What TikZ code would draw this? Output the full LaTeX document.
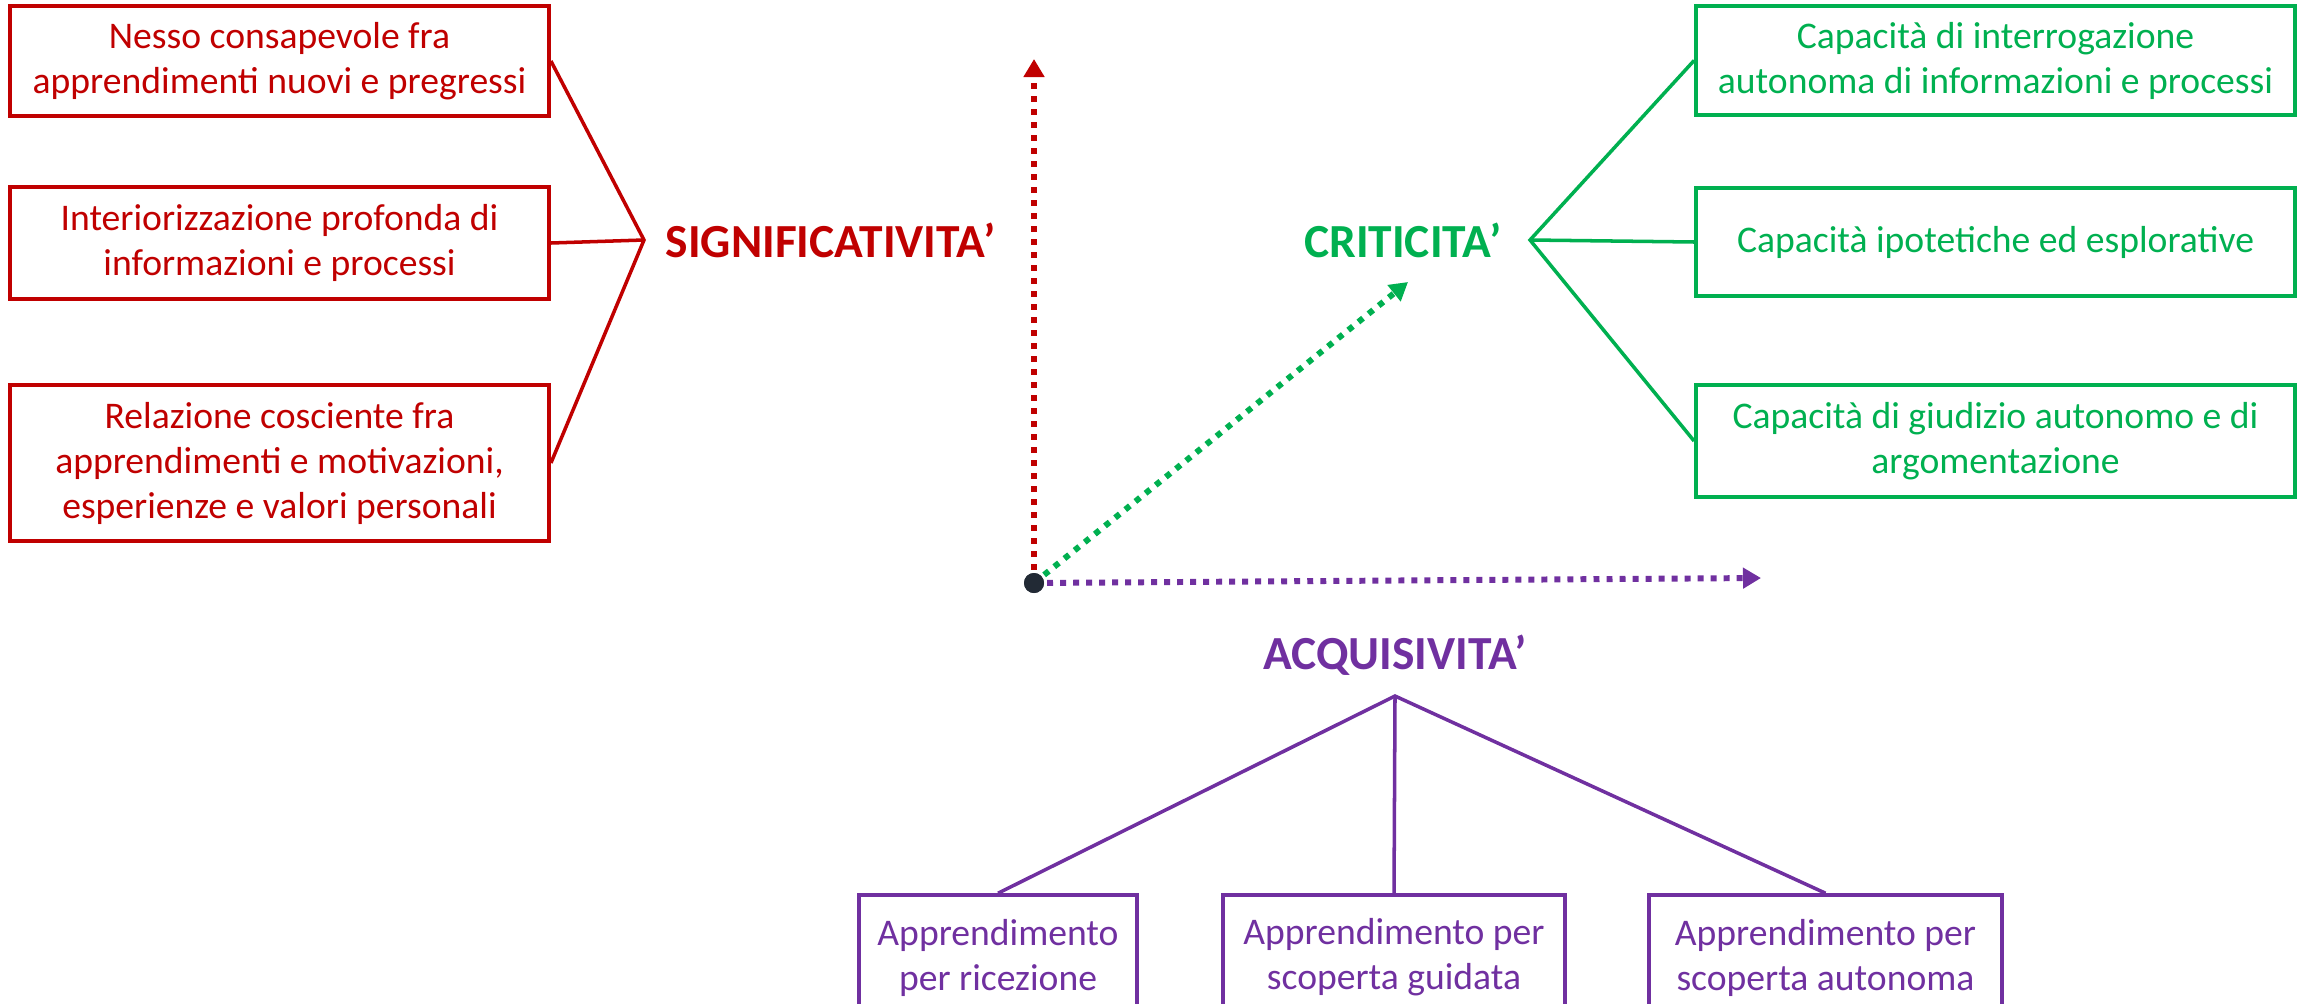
\documentclass[tikz,border=0pt]{standalone}
\usepackage{fontspec}
\setmainfont{Carlito}
\usetikzlibrary{arrows.meta,positioning}
\definecolor{sigred}{HTML}{C00000}
\definecolor{critgreen}{HTML}{00B050}
\definecolor{acqpurple}{HTML}{7030A0}
\definecolor{origindark}{HTML}{222A35}

\tikzset{
  itembox/.style={draw, line width=1pt, align=center, inner sep=0pt,
    font=\fontsize{10.7pt}{12.8pt}\selectfont},
  axisarrow/.style={line width=1.7pt, dash pattern=on 1.7pt off 2pt,
    -{Triangle[width=0.2cm,length=0.18cm]}},
  heading/.style={inner sep=0pt, font=\fontsize{13.5pt}{15pt}\selectfont\bfseries},
  branch/.style={line width=1pt}
}

\begin{document}
\begin{tikzpicture}[x=0.01cm, y=-0.01cm]
\useasboundingbox (0,0) rectangle (2307,1003);
\clip (0,0) rectangle (2307,1003);

% significativita'
\begin{scope}[sigred]
\node[itembox, minimum width=5.39cm, minimum height=1.10cm] (s1) at (279.5,61)
  {Nesso consapevole fra\\apprendimenti nuovi e pregressi};
\node[itembox, minimum width=5.39cm, minimum height=1.12cm] (s2) at (279.5,243)
  {Interiorizzazione profonda di\\informazioni e processi};
\node[itembox, minimum width=5.39cm, minimum height=1.56cm] (s3) at (279.5,463)
  {Relazione cosciente fra\\apprendimenti e motivazioni,\\esperienze e valori personali};
\coordinate (sj) at (644,240);
\node[heading, anchor=west, right=0.21cm of sj] (sig) {SIGNIFICATIVITA’};
\draw[branch] (s1.east) -- (sj) -- (s3.east);
\draw[branch] (s2.east) -- (sj);
\end{scope}

% criticita'
\begin{scope}[critgreen]
\node[itembox, minimum width=5.99cm, minimum height=1.09cm] (c1) at (1995.5,60.5)
  {Capacità di interrogazione\\autonoma di informazioni e processi};
\node[itembox, minimum width=5.99cm, minimum height=1.08cm] (c2) at (1995.5,242)
  {\raisebox{0.06cm}{Capacità ipotetiche ed esplorative}};
\node[itembox, minimum width=5.99cm, minimum height=1.12cm] (c3) at (1995.5,441)
  {Capacità di giudizio autonomo e di\\argomentazione};
\coordinate (cj) at (1530,240);
\node[heading, anchor=east, left=0.28cm of cj] (crit) {CRITICITA’};
\draw[branch] (c1.west) -- (cj) -- (c3.west);
\draw[branch] (c2.west) -- (cj);
\end{scope}

% acquisivita'
\begin{scope}[acqpurple]
\node[itembox, minimum width=2.78cm, minimum height=1.25cm] (a1) at (998,957.5)
  {Apprendimento\\per ricezione};
\node[itembox, minimum width=3.42cm, minimum height=1.25cm] (a2) at (1394,957.5)
  {Apprendimento per\\scoperta guidata};
\node[itembox, minimum width=3.53cm, minimum height=1.25cm] (a3) at (1825.5,957.5)
  {Apprendimento per\\scoperta autonoma};
\coordinate (aj) at (1395,696);
\node[heading, above=0.2cm of aj] (acq) {ACQUISIVITA’};
\draw[branch] (a1.north) -- (aj) -- (a3.north);
\draw[branch] (a2.north) -- (aj);
\end{scope}

% axes
\coordinate (sigtip) at (1034,59);
\coordinate (crittip) at (1408,282);
\coordinate (acqtip) at (1761,578);
\node[circle, fill=origindark, minimum size=0.2cm, inner sep=0pt] (o) at (1034,583) {};
\draw[axisarrow, sigred] (o.center) -- (sigtip);
\draw[axisarrow, critgreen] (o.center) -- (crittip);
\draw[axisarrow, acqpurple] (o.center) -- (acqtip);
\node[circle, fill=origindark, minimum size=0.2cm, inner sep=0pt] at (o) {};
\end{tikzpicture}
\end{document}
